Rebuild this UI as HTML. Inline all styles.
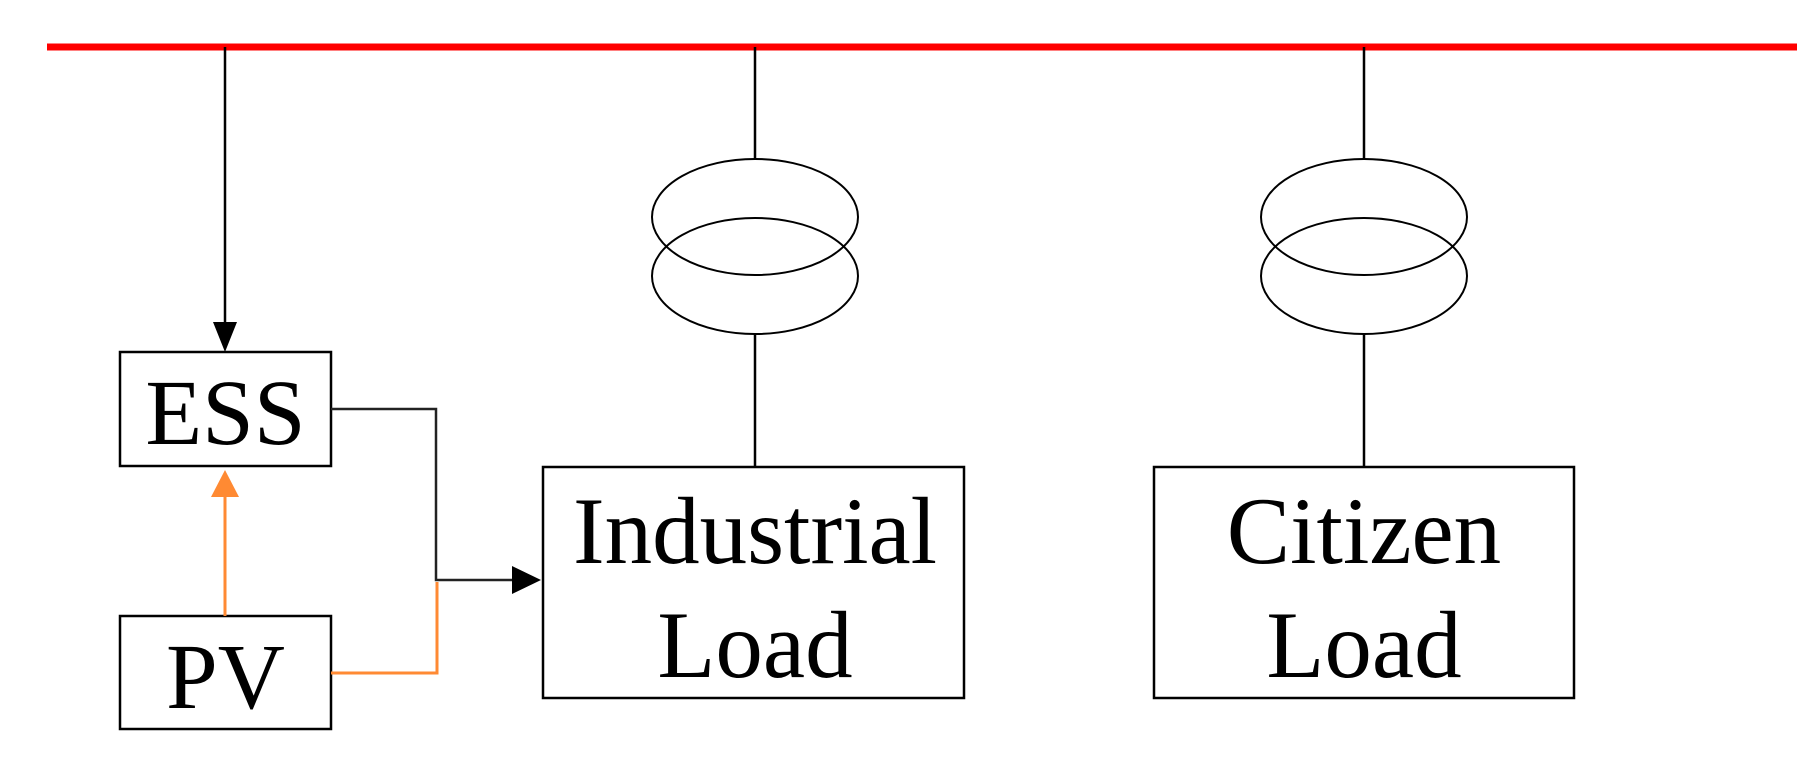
<!DOCTYPE html>
<html><head><style>html,body{margin:0;padding:0;background:#fff;}svg{display:block}</style></head>
<body>
<svg width="1820" height="768" viewBox="0 0 1820 768" xmlns="http://www.w3.org/2000/svg" font-family="'Liberation Serif', serif">
<line x1="47" y1="47" x2="1797" y2="47" stroke="#ff0000" stroke-width="7"/>
<!-- ESS feed -->
<line x1="225" y1="47" x2="225" y2="325" stroke="#000" stroke-width="2.5"/>
<polygon points="213,322 237,322 225,352" fill="#000"/>
<rect x="120" y="352" width="211" height="114" fill="none" stroke="#000" stroke-width="2.5"/>
<text x="225.5" y="444" font-size="93" text-anchor="middle">ESS</text>
<rect x="120" y="616" width="211" height="113" fill="none" stroke="#000" stroke-width="2.5"/>
<text x="225.5" y="708" font-size="93" text-anchor="middle">PV</text>
<!-- orange arrow PV->ESS -->
<line x1="225" y1="616" x2="225" y2="495" stroke="#ff8a33" stroke-width="3"/>
<polygon points="211,497 239,497 225,470" fill="#ff8a33"/>
<!-- ESS -> industrial -->
<polyline points="331,409 436,409 436,580 515,580" fill="none" stroke="#222" stroke-width="2.5"/>
<polyline points="331,673 437,673 437,582" fill="none" stroke="#ff8a33" stroke-width="3"/>
<polygon points="512,566 541,580 512,594" fill="#000"/>
<!-- Industrial -->
<line x1="755" y1="47" x2="755" y2="159" stroke="#000" stroke-width="2.5"/>
<ellipse cx="755" cy="217" rx="103" ry="58" fill="none" stroke="#000" stroke-width="2"/>
<ellipse cx="755" cy="276" rx="103" ry="58" fill="none" stroke="#000" stroke-width="2"/>
<line x1="755" y1="334" x2="755" y2="467" stroke="#000" stroke-width="2.5"/>
<rect x="543" y="467" width="421" height="231" fill="none" stroke="#000" stroke-width="2.5"/>
<text x="755" y="563" font-size="95" text-anchor="middle">Industrial</text>
<text x="755" y="677" font-size="95" text-anchor="middle">Load</text>
<!-- Citizen -->
<line x1="1364" y1="47" x2="1364" y2="159" stroke="#000" stroke-width="2.5"/>
<ellipse cx="1364" cy="217" rx="103" ry="58" fill="none" stroke="#000" stroke-width="2"/>
<ellipse cx="1364" cy="276" rx="103" ry="58" fill="none" stroke="#000" stroke-width="2"/>
<line x1="1364" y1="334" x2="1364" y2="467" stroke="#000" stroke-width="2.5"/>
<rect x="1154" y="467" width="420" height="231" fill="none" stroke="#000" stroke-width="2.5"/>
<text x="1364" y="563" font-size="95" text-anchor="middle">Citizen</text>
<text x="1364" y="677" font-size="95" text-anchor="middle">Load</text>
</svg>
</body></html>
